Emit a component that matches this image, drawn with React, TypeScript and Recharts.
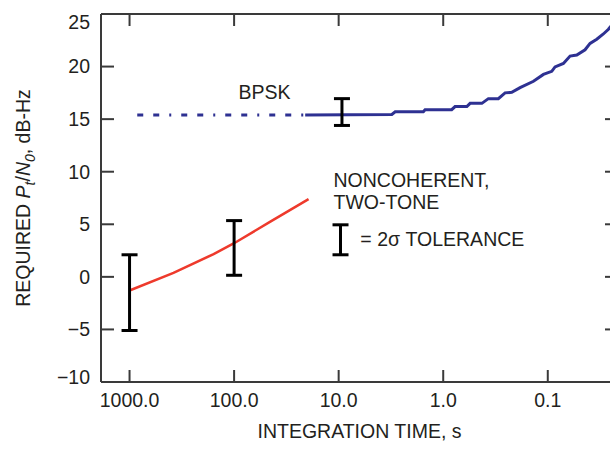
import React from 'react';
import { ComposedChart, Line, Scatter, ErrorBar, XAxis, YAxis } from 'recharts';

// axis ticks
const xTicks = [1000, 100, 10, 1, 0.1];
const xTickLabels = ['1000.0', '100.0', '10.0', '1.0', '0.1'];
const yTicks = [-10, -5, 0, 5, 10, 15, 20, 25];

// BPSK, dashed (extrapolated) part
const bpskDashT = [844, 20.9];
const bpskDashV = [15.4, 15.4];

// BPSK, measured part
const bpskT = [20.9, 3.1, 2.88, 1.55, 1.49, 0.83, 0.77, 0.594, 0.553, 0.427, 0.37, 0.297, 0.256, 0.221, 0.184, 0.137, 0.11, 0.0916, 0.0852, 0.0709, 0.0612, 0.0528, 0.044, 0.0394, 0.034, 0.0294, 0.0263, 0.0254, 0.0213];
const bpskV = [15.4, 15.45, 15.7, 15.7, 15.9, 15.9, 16.2, 16.2, 16.5, 16.5, 16.95, 16.95, 17.5, 17.55, 18.0, 18.6, 19.25, 19.55, 19.97, 20.3, 21.0, 21.1, 21.6, 22.2, 22.6, 23.1, 23.55, 23.75, 24.5];

// noncoherent two-tone
const ncT = [1000, 380, 157, 100, 45, 19.4];
const ncV = [-1.3, 0.38, 2.17, 3.2, 5.25, 7.39];

// 2-sigma tolerance bars
const tolT = [1000, 100, 9.3];
const tolLo = [-5.1, 0.15, 14.4];
const tolHi = [2.1, 5.35, 16.95];

// key symbol for the tolerance bar
const keyT = [9.6];
const keyLo = [2.1];
const keyHi = [4.95];

// annotations
const noteText = ['BPSK', 'NONCOHERENT,', 'TWO-TONE', '= 2\u03c3 TOLERANCE'];
const noteT = [90.8, 11.2, 11.2, 6.2];
const noteV = [16.9, 8.56, 6.5, 2.9];

const zip = (t: number[], v: number[]) => t.map((x, i) => ({ t: x, v: v[i] }));
const bars = (t: number[], lo: number[], hi: number[]) =>
  t.map((x, i) => ({ t: x, v: (lo[i] + hi[i]) / 2, err: (hi[i] - lo[i]) / 2 }));

const bpskDash = zip(bpskDashT, bpskDashV);
const bpsk = zip(bpskT, bpskV);
const nc = zip(ncT, ncV);
const tol = bars(tolT, tolLo, tolHi);
const key = bars(keyT, keyLo, keyHi);
const notes = noteText.map((text, i) => ({ t: noteT[i], v: noteV[i], text }));

const FONT = '"Liberation Sans", Arial, Helvetica, sans-serif';
const INK = '#231f20';
const FRAME = '#3a3a3a';
const BLUE = '#2e3192';
const RED = '#ee3a2c';

const fmtY = (v: number) => (v < 0 ? '\u2212' + Math.abs(v) : String(v));
const fmtX = (v: number) => xTickLabels[xTicks.indexOf(v)] ?? '';

const YTick = (props: any) => {
  const { x, y, payload } = props;
  let shift = 0;
  if (payload.value === 25) shift = 8;
  if (payload.value === -10) shift = -5;
  return (
    <text x={x} y={y + shift} dy="0.35em" textAnchor="end" fill={INK} fontSize={19.5} fontFamily={FONT}>
      {fmtY(payload.value)}
    </text>
  );
};

const YTitle = (props: any) => {
  const vb = props.viewBox;
  const cx = vb.x + 29;
  const cy = vb.y + vb.height / 2;
  return (
    <text x={cx} y={cy} transform={`rotate(-90, ${cx}, ${cy})`} textAnchor="middle" fill={INK} fontSize={19.5} fontFamily={FONT}>
      REQUIRED <tspan fontStyle="italic">P</tspan>
      <tspan fontStyle="italic" fontSize={14} dy={5}>t</tspan>
      <tspan dy={-5}>/</tspan>
      <tspan fontStyle="italic">N</tspan>
      <tspan fontStyle="italic" fontSize={14} dy={5}>0</tspan>
      <tspan dy={-5}>, dB-Hz</tspan>
    </text>
  );
};

const NoteShape = (props: any) => (
  <text x={props.cx} y={props.cy} fill={INK} fontSize={19.5} fontFamily={FONT}>
    {props.payload.text}
  </text>
);

const none = () => <g />;

export default function App() {
  return (
    <div style={{ position: 'absolute', left: 0, top: 0, width: 610, height: 452, overflow: 'hidden', background: '#fff' }}>
      <ComposedChart width={640} height={452} margin={{ top: 13, right: 0, bottom: 10, left: 1 }}>
        <XAxis
          xAxisId="b"
          dataKey="t"
          type="number"
          scale="log"
          domain={[0.0213, 1875]}
          allowDataOverflow
          reversed
          ticks={xTicks}
          interval={0}
          tickFormatter={fmtX}
          height={60}
          tickSize={-12}
          tickMargin={23}
          stroke={FRAME}
          strokeWidth={2}
          tick={{ fill: INK, fontSize: 19.5, fontFamily: FONT }}
          label={{ value: 'INTEGRATION TIME, s', position: 'insideBottom', offset: 4, fill: INK, fontSize: 19.5, fontFamily: FONT }}
        />
        <XAxis
          xAxisId="top"
          orientation="top"
          dataKey="t"
          type="number"
          scale="log"
          domain={[0.0213, 1875]}
          allowDataOverflow
          reversed
          ticks={xTicks}
          interval={0}
          tickFormatter={() => ''}
          height={1}
          tickSize={-12}
          stroke={FRAME}
          strokeWidth={2}
        />
        <YAxis
          yAxisId="l"
          type="number"
          domain={[-10, 25]}
          allowDataOverflow
          ticks={yTicks}
          interval={0}
          width={100}
          tickSize={-13}
          tickMargin={24}
          stroke={FRAME}
          strokeWidth={2}
          tick={<YTick />}
          label={<YTitle />}
        />
        <YAxis
          yAxisId="r"
          orientation="right"
          type="number"
          domain={[-10, 25]}
          allowDataOverflow
          ticks={yTicks}
          interval={0}
          width={22}
          tickSize={-13}
          tickFormatter={() => ''}
          stroke={FRAME}
          strokeWidth={2}
        />

        <Line xAxisId="b" yAxisId="l" data={bpskDash} dataKey="v" stroke={BLUE} strokeWidth={3} strokeDasharray="6 10 6 10 2 10" dot={false} isAnimationActive={false} />
        <Line xAxisId="b" yAxisId="l" data={bpsk} dataKey="v" stroke={BLUE} strokeWidth={3} dot={false} isAnimationActive={false} />
        <Line xAxisId="b" yAxisId="l" data={nc} dataKey="v" stroke={RED} strokeWidth={2.5} dot={false} isAnimationActive={false} />

        <Scatter xAxisId="b" yAxisId="l" data={tol} dataKey="v" shape={none} isAnimationActive={false}>
          <ErrorBar dataKey="err" direction="y" width={8} stroke="#000" strokeWidth={3} isAnimationActive={false} />
        </Scatter>
        <Scatter xAxisId="b" yAxisId="l" data={key} dataKey="v" shape={none} isAnimationActive={false}>
          <ErrorBar dataKey="err" direction="y" width={8} stroke="#000" strokeWidth={3} isAnimationActive={false} />
        </Scatter>
        <Scatter xAxisId="b" yAxisId="l" data={notes} dataKey="v" shape={NoteShape} isAnimationActive={false} />
      </ComposedChart>
    </div>
  );
}
